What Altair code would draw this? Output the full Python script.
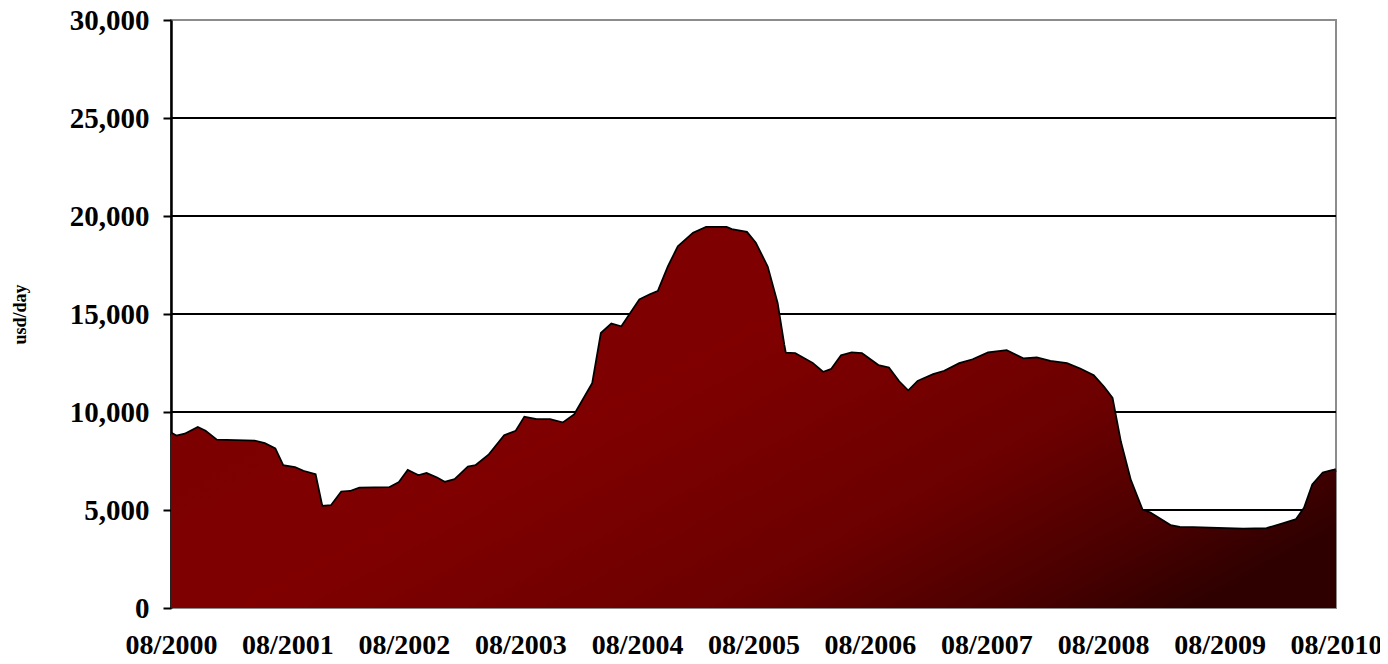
import altair as alt
import pandas as pd

dates = [
    "2000-08-01", "2000-08-18", "2000-09-14", "2000-10-24", "2000-11-16", "2000-12-22",
    "2001-04-20", "2001-05-21", "2001-06-22", "2001-07-17", "2001-08-24", "2001-09-19",
    "2001-10-26", "2001-11-16", "2001-12-17", "2002-01-18", "2002-02-14", "2002-03-15",
    "2002-06-17", "2002-07-18", "2002-08-14", "2002-09-15", "2002-10-11", "2002-11-12",
    "2002-12-07", "2003-01-08", "2003-02-19", "2003-03-15", "2003-04-26", "2003-06-13",
    "2003-07-19", "2003-08-15", "2003-09-21", "2003-11-02", "2003-12-13", "2004-01-19",
    "2004-03-16", "2004-04-12", "2004-05-13", "2004-06-14", "2004-08-10", "2004-09-11",
    "2004-10-07", "2004-11-08", "2004-12-09", "2005-01-25", "2005-03-06", "2005-05-08",
    "2005-05-24", "2005-07-10", "2005-08-06", "2005-09-12", "2005-10-13", "2005-11-03",
    "2005-11-08", "2005-12-09", "2006-02-01", "2006-03-07", "2006-04-03", "2006-05-04",
    "2006-06-05", "2006-07-06", "2006-08-27", "2006-09-28", "2006-10-29", "2006-11-29",
    "2006-12-30", "2007-02-16", "2007-03-23", "2007-05-09", "2007-06-20", "2007-08-07",
    "2007-10-03", "2007-11-25", "2008-01-06", "2008-02-17", "2008-04-09", "2008-05-20",
    "2008-07-01", "2008-08-02", "2008-08-28", "2008-09-23", "2008-10-24", "2008-11-30",
    "2008-12-26", "2009-02-28", "2009-03-29", "2009-05-10", "2009-07-01", "2009-10-14",
    "2009-12-27", "2010-02-18", "2010-03-30", "2010-04-25", "2010-05-21", "2010-06-22",
    "2010-07-23", "2010-08-01",
]
rates = [
    8900, 8750, 8850, 9180, 9000, 8540,
    8500, 8370, 8110, 7250, 7140, 6960,
    6790, 5170, 5200, 5900, 5930, 6100,
    6120, 6390, 6990, 6730, 6840, 6620,
    6390, 6530, 7180, 7250, 7800, 8780,
    9000, 9710, 9590, 9590, 9420, 9850,
    11460, 14010, 14470, 14320, 15710, 15970,
    16140, 17410, 18430, 19110, 19400, 19400,
    19290, 19150, 18610, 17410, 15550, 13420,
    12980, 12960, 12470, 12000, 12160, 12860,
    13000, 12960, 12350, 12230, 11550, 11040,
    11550, 11890, 12060, 12450, 12650, 13000,
    13110, 12690, 12740, 12570, 12450, 12180,
    11840, 11260, 10700, 8480, 6530, 5000,
    4830, 4180, 4100, 4080, 4050, 4000,
    4030, 4290, 4490, 5090, 6280, 6870,
    7000, 7050,
]
tick_dates = [f"{y}-08-01" for y in range(2000, 2011)]
y_ticks = [0, 5000, 10000, 15000, 20000, 25000, 30000]
grid_vals = [5000, 10000, 15000, 20000, 25000]

df = pd.DataFrame({"date": pd.to_datetime(dates), "rate": rates})
grid_df = pd.DataFrame({"rate": grid_vals})

FONT = "Liberation Serif"

x_scale = alt.Scale(domain=[pd.Timestamp("2000-08-01").isoformat(), pd.Timestamp("2010-08-01").isoformat()])
y_scale = alt.Scale(domain=[0, 30000])

x_axis = alt.Axis(
    values=[pd.Timestamp(d).isoformat() for d in tick_dates],
    format="%m/%Y",
    title=None,
    domain=False,
    ticks=False,
    grid=False,
    labelFont=FONT,
    labelFontWeight="bold",
    labelFontSize=28,
    labelColor="black",
    labelPadding=23,
    labelOverlap=False,
    labelFlush=False,
)
y_axis = alt.Axis(
    values=y_ticks,
    format=",d",
    title="usd/day",
    titleFont=FONT,
    titleFontWeight="bold",
    titleFontSize=18,
    titleColor="black",
    titlePadding=40,
    labelFont=FONT,
    labelFontWeight="bold",
    labelFontSize=29,
    labelColor="black",
    labelPadding=14,
    tickColor="black",
    tickSize=8,
    tickWidth=2,
    domainColor="black",
    domainWidth=2.5,
    grid=False,
)

x_enc = alt.X("date:T", scale=x_scale, axis=x_axis)
y_enc = alt.Y("rate:Q", scale=y_scale, axis=y_axis)

grid = alt.Chart(grid_df).mark_rule(color="black", strokeWidth=2).encode(
    y=alt.Y("rate:Q", scale=y_scale, axis=y_axis)
)

gradient = alt.Gradient(
    gradient="linear",
    x1=0, y1=0.2, x2=1, y2=0.8,
    stops=[
        alt.GradientStop(color="#7a0000", offset=0),
        alt.GradientStop(color="#800000", offset=0.4),
        alt.GradientStop(color="#6c0000", offset=0.7),
        alt.GradientStop(color="#4a0000", offset=0.88),
        alt.GradientStop(color="#2e0000", offset=1),
    ],
)

line = alt.Chart(df).mark_line(color="black", strokeWidth=3.5, interpolate="linear").encode(
    x=x_enc, y=y_enc
)
area = alt.Chart(df).mark_area(color=gradient, interpolate="linear").encode(
    x=x_enc, y=y_enc
)

chart = (
    alt.layer(grid, line, area)
    .properties(
        width=1165,
        height=588,
        padding={"left": 163, "top": 12, "right": 44, "bottom": 48},
        autosize="none",
    )
    .configure_view(stroke="#8c8c8c", strokeWidth=2)
    .configure_axisY(titleFontSize=18, titleFont=FONT, titleFontWeight="bold")
)

chart.save("out.html", embed_options={"renderer": "svg", "actions": False})
